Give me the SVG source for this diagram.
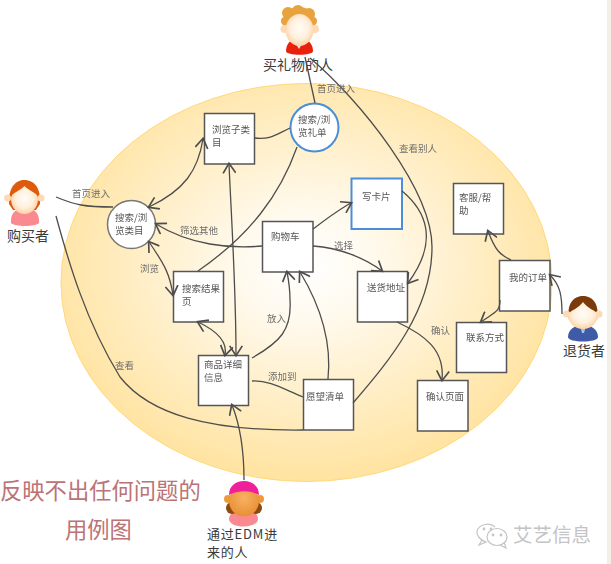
<svg xmlns="http://www.w3.org/2000/svg" width="611" height="564" viewBox="0 0 611 564">
<style>
text{font-family:"Noto Sans CJK SC","Liberation Sans",sans-serif}
.box{fill:#fff;stroke:#555;stroke-width:1.5}
.blue{fill:#fff;stroke:#4a8fd6;stroke-width:2}
.n{font-size:9.5px;fill:#555;filter:url(#soft)}
.l{font-size:9.5px;fill:#6e6e6e;filter:url(#soft)}
.a{font-size:14px;fill:#3a3a3a}
.r{font-size:22.3px;fill:#bb7376}
.c{fill:none;stroke:#4d4d4d;stroke-width:1.3}
.e{marker-end:url(#open)}
.b{marker-start:url(#open);marker-end:url(#open)}
.face{fill:url(#skin)}
</style>
<defs>
<filter id="soft" x="-10%" y="-20%" width="120%" height="140%"><feGaussianBlur stdDeviation="0.35"/></filter>
<radialGradient id="bg" cx="0.5" cy="0.46" r="0.54"><stop offset="0" stop-color="#ffffff"/><stop offset="0.25" stop-color="#fffaee"/><stop offset="1" stop-color="#ffe3a0"/></radialGradient>
<radialGradient id="skin" cx="0.5" cy="0.45" r="0.55"><stop offset="0" stop-color="#fffdf8"/><stop offset="0.6" stop-color="#fff0dc"/><stop offset="1" stop-color="#fdd2a4"/></radialGradient>
<radialGradient id="skin2" cx="0.5" cy="0.4" r="0.6"><stop offset="0" stop-color="#f8b264"/><stop offset="1" stop-color="#e98f34"/></radialGradient>
<marker id="open" markerUnits="userSpaceOnUse" markerWidth="14" markerHeight="14" refX="7.5" refY="5" orient="auto-start-reverse" viewBox="0 0 10 10"><path d="M1 0.5 L8 5 L1 9.5" fill="none" stroke="#4d4d4d" stroke-width="1.2"/></marker>
</defs>
<rect width="611" height="564" fill="#fff"/>
<rect x="607" width="4" height="564" fill="#f3efe6"/>
<ellipse id="boundary" cx="306.500" cy="282.500" rx="245.500" ry="199" fill="url(#bg)" stroke="#ffd97a" stroke-width="1"/>

<g id="uc-browse-sub"><rect class="box" x="204.500" y="113.500" width="50" height="50.500"/><text class="n" x="212" y="132.500">浏览子类<tspan x="212" dy="13">目</tspan></text></g>
<g id="uc-gift"><circle class="blue" cx="314.500" cy="127.500" r="24"/><text class="n" x="298" y="123">搜索/浏<tspan x="298" dy="13">览礼单</tspan></text></g>
<g id="uc-browse-cat"><circle cx="131.500" cy="224.500" r="24" fill="#fff" stroke="#777" stroke-width="1.5"/><text class="n" x="115" y="220.500">搜索/浏<tspan x="115" dy="13">览类目</tspan></text></g>
<g id="uc-cart"><rect class="box" x="262.500" y="221.500" width="50.500" height="50.500"/><text class="n" x="271" y="239.500">购物车</text></g>
<g id="uc-card"><rect class="blue" x="351.500" y="178.500" width="50.500" height="50.500"/><text class="n" x="362" y="199.500">写卡片</text></g>
<g id="uc-address"><rect class="box" x="357.500" y="271.500" width="50" height="50.500"/><text class="n" x="367" y="290.500">送货地址</text></g>
<g id="uc-results"><rect class="box" x="173.500" y="271.500" width="50" height="50.500"/><text class="n" x="182" y="291.500">搜索结果<tspan x="182" dy="13">页</tspan></text></g>
<g id="uc-detail"><rect class="box" x="198.500" y="355.500" width="50" height="50"/><text class="n" x="204" y="367.500">商品详细<tspan x="204" dy="13">信息</tspan></text></g>
<g id="uc-wish"><rect class="box" x="303.500" y="379.500" width="50" height="50.500"/><text class="n" x="306" y="399.500">愿望清单</text></g>
<g id="uc-confirm"><rect class="box" x="417.500" y="380.500" width="50.500" height="50.500"/><text class="n" x="426" y="399.500">确认页面</text></g>
<g id="uc-contact"><rect class="box" x="456.500" y="322.500" width="50" height="50"/><text class="n" x="466" y="340.500">联系方式</text></g>
<g id="uc-orders"><rect class="box" x="499.500" y="260.500" width="50.500" height="50.500"/><text class="n" x="509" y="280.500">我的订单</text></g>
<g id="uc-help"><rect class="box" x="453.500" y="183.500" width="50" height="50.500"/><text class="n" x="459" y="201">客服/帮<tspan x="459" dy="13">助</tspan></text></g>

<g id="actor-gift">
<ellipse cx="299" cy="22" rx="16.500" ry="15" fill="#e8a33d"/><circle cx="288" cy="13" r="6" fill="#e8a33d"/><circle cx="298" cy="11" r="6" fill="#e8a33d"/><circle cx="309" cy="14" r="6" fill="#e8a33d"/><circle cx="313" cy="21" r="4" fill="#e8a33d"/><circle cx="285" cy="21" r="4" fill="#e8a33d"/>
<path d="M286 51 C286 44 291 39 295 39 L303 39 C308 39 313 44 313 51 C313 56 286 56 286 51Z" fill="#e8200c"/><path d="M293 39 L299 49 L305 39Z" fill="#e4e4e4"/>
<circle cx="284.500" cy="29" r="4" fill="#fdd9b5"/><circle cx="315" cy="29" r="4" fill="#fdd9b5"/>
<ellipse class="face" cx="299.500" cy="30" rx="14" ry="16"/>
<text class="a" x="263" y="70">买礼物的人</text></g>

<g id="actor-buyer">
<path d="M9 204 C8 186 17 180 24 180 C33 180 41 186 40 204 L36 210 L13 210Z" fill="#e05a0c"/>
<path d="M11 223 C10 212 17 208 25 208 C33 208 40 212 39 223 C36 227 14 227 11 223Z" fill="#fb8a90"/>
<circle cx="7.500" cy="198" r="3.500" fill="#fdd9b5"/><circle cx="41" cy="198" r="3.500" fill="#fdd9b5"/>
<path d="M11 199 C11 192 19 192 24.500 186 C30 192 38 192 38 199 C38 208 31 214 24.500 214 C18 214 11 208 11 199Z" class="face"/>
<text class="a" x="7" y="241">购买者</text></g>

<g id="actor-return">
<path d="M569 320 C566 302 575 296 583 296 C591 296 600 302 597 320Z" fill="#7a3a0a"/>
<path d="M568 337 C568 330 574 325 583 325 C592 325 598 330 598 337 C598 343 568 343 568 337Z" fill="#3f5aa6"/><path d="M580 326 L586 326 L584 333 L582 333Z" fill="#9cc4e6"/>
<circle cx="566.500" cy="314" r="3.500" fill="#fdd9b5"/><circle cx="599" cy="314" r="3.500" fill="#fdd9b5"/>
<path d="M568 314 C571 310 578 309 583 302 C588 309 595 310 598 314 C598 323 591 329 583 329 C575 329 568 323 568 314Z" class="face"/>
<text class="a" x="563" y="356">退货者</text></g>

<g id="actor-edm">
<path d="M229 519 C229 513 236 510 244 510 C252 510 258 513 258 519 C258 529 229 529 229 519Z" fill="#fb8a90"/>
<circle cx="232" cy="508" r="6" fill="#8a4a12"/><circle cx="256" cy="508" r="6" fill="#8a4a12"/>
<circle cx="228" cy="499" r="4" fill="#ee9a3c"/><circle cx="260" cy="499" r="4" fill="#ee9a3c"/>
<ellipse cx="244" cy="501" rx="15" ry="15.500" fill="url(#skin2)"/>
<path d="M229 495 C229 485 237 481 244 481 C251 481 259 485 259 495 C250 490 238 490 229 495Z" fill="#f0209a"/>
<text class="a" x="207" y="539" style="font-size:13px;letter-spacing:0.8px">通过EDM进<tspan x="207" dy="18">来的人</tspan></text></g>

<g id="connectors">
<path class="c" d="M56 197 C75 205 85 207 113 207"/>
<path class="c" d="M56 216 C68 260 85 320 120 377 C150 415 210 431 303 430"/>
<path class="c b" d="M149 207 C185 190 198 170 203 139"/>
<path class="c" d="M254 138 C270 140 275 135 290 128"/>
<path class="c" d="M297 147 C280 195 250 235 198 271"/>
<path class="c" d="M305 57 L315 103"/>
<path class="c" d="M310 58 C360 100 432 190 432 247 C432 310 390 360 353 403"/>
<path class="c e" d="M402 191 C425 210 440 240 408 283"/>
<path class="c e" d="M313 229 C325 220 338 210 351 203"/>
<path class="c e" d="M313 246 C340 248 365 258 382 271"/>
<path class="c e" d="M262 246 C230 249 190 245 156 224"/>
<path class="c b" d="M149 242 C165 265 170 275 173 295"/>
<path class="c b" d="M198 322 C215 330 228 340 225 355"/>
<path class="c b" d="M229 164 C232 230 236 290 236 355"/>
<path class="c e" d="M252 358 C280 342 292 330 290 300 C290 290 289 282 287 272"/>
<path class="c e" d="M328 379 C332 340 320 305 300 272"/>
<path class="c" d="M252 381 C270 380 285 390 303 397"/>
<path class="c e" d="M244 480 C244 450 240 425 232 405"/>
<path class="c e" d="M397 322 C425 335 445 350 442 380"/>
<path class="c e" d="M511 260 C500 255 495 250 488 231"/>
<path class="c e" d="M500 300 C500 312 495 312 481 322"/>
<path class="c e" d="M562 314 C562 295 560 285 550 275"/>
</g>

<g id="connector-labels">
<text class="l" x="72" y="197">首页进入</text>
<text class="l" x="317" y="92">首页进入</text>
<text class="l" x="399" y="152">查看别人</text>
<text class="l" x="180" y="234">筛选其他</text>
<text class="l" x="334" y="249">选择</text>
<text class="l" x="140" y="272">浏览</text>
<text class="l" x="267" y="322">放入</text>
<text class="l" x="268" y="380">添加到</text>
<text class="l" x="115" y="369">查看</text>
<text class="l" x="431" y="334">确认</text>
</g>

<g id="caption"><text class="r" x="0" y="499">反映不出任何问题的</text><text class="r" x="65" y="538">用例图</text></g>
<g id="watermark" fill="none" stroke="#c4c4c4" stroke-width="1.2">
<path d="M482 540 L479 545 L486 542 C480 540 476 535 477 531 C479 524 490 522 495 527"/>
<ellipse cx="497" cy="537" rx="10" ry="8.500" fill="#fff"/><path d="M500 545 L506 548 L504 542"/>
<circle cx="484" cy="529" r="0.800" fill="#c4c4c4"/><circle cx="491" cy="529" r="0.800" fill="#c4c4c4"/><circle cx="493" cy="535" r="0.800" fill="#c4c4c4"/><circle cx="501" cy="535" r="0.800" fill="#c4c4c4"/>
<text x="513" y="542" font-size="19.500" fill="#c4c4c4" stroke="none">艾艺信息</text></g>
</svg>
